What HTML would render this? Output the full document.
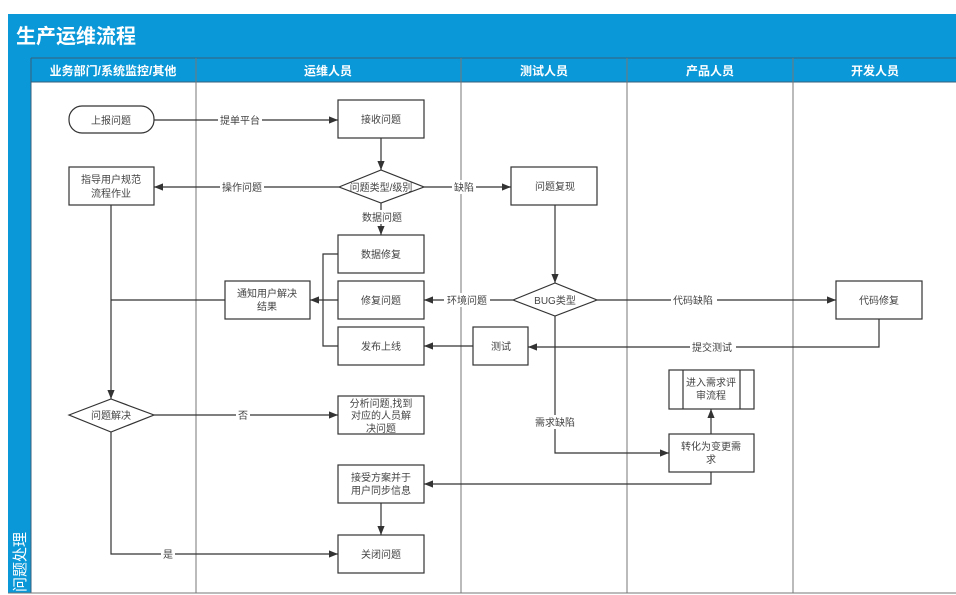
<!DOCTYPE html>
<html><head><meta charset="utf-8"><style>
html,body{margin:0;padding:0;background:#fff;}
svg{display:block;font-family:"Liberation Sans","Noto Sans CJK SC",sans-serif;}
</style></head><body>
<svg width="956" height="595" viewBox="0 0 956 595" xmlns="http://www.w3.org/2000/svg">
<defs><marker id="a" viewBox="0 0 10 10" refX="10" refY="5" markerWidth="9" markerHeight="9" markerUnits="userSpaceOnUse" orient="auto"><path d="M0,1 L10,5 L0,9 z" fill="#333"/></marker></defs>
<rect x="0" y="0" width="956" height="595" fill="#fff"/>
<rect x="8" y="14" width="948" height="44" fill="#0a98d8"/>
<text x="16" y="43" font-size="20" font-weight="bold" fill="#fff">生产运维流程</text>
<rect x="8" y="58" width="948" height="24" fill="#0a98d8"/>
<rect x="8" y="58" width="23" height="535" fill="#0a98d8"/>
<g stroke="#3a5f7a" stroke-width="1"><line x1="31" y1="58" x2="31" y2="593"/><line x1="31" y1="82" x2="956" y2="82"/><line x1="31" y1="58" x2="956" y2="58"/></g>
<g fill="#fff" font-size="12" font-weight="bold" text-anchor="middle">
<text x="113" y="75">业务部门/系统监控/其他</text><text x="328" y="75">运维人员</text><text x="544" y="75">测试人员</text><text x="710" y="75">产品人员</text><text x="875" y="75">开发人员</text></g>
<g stroke="#777" stroke-width="1"><line x1="196" y1="58" x2="196" y2="593"/><line x1="461" y1="58" x2="461" y2="593"/><line x1="627" y1="58" x2="627" y2="593"/><line x1="793" y1="58" x2="793" y2="593"/><line x1="8" y1="593" x2="956" y2="593"/></g>
<text transform="translate(25,592) rotate(-90)" font-size="15" fill="#fff">问题处理</text>
<g fill="#fff" stroke="#333" stroke-width="1.2">
<rect x="69" y="106" width="85" height="27" rx="13"/>
<rect x="338" y="100" width="86" height="38"/>
<polygon points="339,187 381,170 424,187 381,203"/>
<rect x="69" y="167" width="85" height="38"/>
<rect x="338" y="235" width="86" height="38"/>
<rect x="338" y="281" width="86" height="38"/>
<rect x="338" y="327" width="86" height="38"/>
<rect x="225" y="281" width="85" height="38"/>
<polygon points="69,415 111,399 154,415 111,432"/>
<rect x="338" y="396" width="86" height="38"/>
<rect x="338" y="465" width="86" height="38"/>
<rect x="338" y="535" width="86" height="38"/>
<rect x="511" y="167" width="86" height="38"/>
<polygon points="513,300 555,283 597,300 555,316"/>
<rect x="836" y="281" width="86" height="38"/>
<rect x="473" y="327" width="55" height="38"/>
<rect x="669" y="434" width="85" height="38"/>
<rect x="669" y="370" width="85" height="39"/>
<line x1="683" y1="370" x2="683" y2="409"/><line x1="740" y1="370" x2="740" y2="409"/>
</g>
<g fill="none" stroke="#333" stroke-width="1.2">
<path d="M154,120 H338" marker-end="url(#a)"/>
<path d="M381,138 V170" marker-end="url(#a)"/>
<path d="M339,187 H154" marker-end="url(#a)"/>
<path d="M424,187 H511" marker-end="url(#a)"/>
<path d="M381,203 V235" marker-end="url(#a)"/>
<path d="M338,254 H323 V346 H338"/>
<path d="M338,300 H310" marker-end="url(#a)"/>
<path d="M225,300 H111"/>
<path d="M111,205 V399" marker-end="url(#a)"/>
<path d="M154,415 H338" marker-end="url(#a)"/>
<path d="M111,432 V554 H338" marker-end="url(#a)"/>
<path d="M381,503 V535" marker-end="url(#a)"/>
<path d="M555,205 V283" marker-end="url(#a)"/>
<path d="M513,300 H424" marker-end="url(#a)"/>
<path d="M597,300 H836" marker-end="url(#a)"/>
<path d="M879,319 V347 H528" marker-end="url(#a)"/>
<path d="M473,346 H424" marker-end="url(#a)"/>
<path d="M555,316 V453 H669" marker-end="url(#a)"/>
<path d="M711,434 V409" marker-end="url(#a)"/>
<path d="M711,472 V484 H424" marker-end="url(#a)"/>
</g>
<g font-size="10" text-anchor="middle" fill="#444">
<rect x="218" y="113" width="44" height="14" fill="#fff"/><text x="240" y="124">提单平台</text>
<rect x="220" y="180" width="44" height="14" fill="#fff"/><text x="242" y="191">操作问题</text>
<rect x="452" y="180" width="24" height="14" fill="#fff"/><text x="464" y="191">缺陷</text>
<rect x="360" y="210" width="44" height="14" fill="#fff"/><text x="382" y="221">数据问题</text>
<rect x="444" y="293" width="46" height="14" fill="#fff"/><text x="467" y="304">环境问题</text>
<rect x="671" y="293" width="46" height="14" fill="#fff"/><text x="693" y="304">代码缺陷</text>
<rect x="690" y="340" width="46" height="14" fill="#fff"/><text x="712" y="351">提交测试</text>
<rect x="533" y="415" width="44" height="14" fill="#fff"/><text x="555" y="426">需求缺陷</text>
<rect x="236" y="408" width="14" height="14" fill="#fff"/><text x="243" y="419">否</text>
<rect x="161" y="547" width="14" height="14" fill="#fff"/><text x="168" y="558">是</text>
<text x="111" y="124">上报问题</text>
<text x="381" y="123">接收问题</text>
<text x="381" y="191">问题类型/级别</text>
<text x="111" y="183">指导用户规范</text><text x="111" y="197">流程作业</text>
<text x="381" y="258">数据修复</text>
<text x="381" y="304">修复问题</text>
<text x="381" y="350">发布上线</text>
<text x="267" y="297">通知用户解决</text><text x="267" y="310">结果</text>
<text x="111" y="419">问题解决</text>
<text x="381" y="407">分析问题,找到</text><text x="381" y="419">对应的人员解</text><text x="381" y="432">决问题</text>
<text x="381" y="481">接受方案并于</text><text x="381" y="494">用户同步信息</text>
<text x="381" y="558">关闭问题</text>
<text x="555" y="190">问题复现</text>
<text x="555" y="304">BUG类型</text>
<text x="879" y="304">代码修复</text>
<text x="501" y="350">测试</text>
<text x="711" y="450">转化为变更需</text><text x="711" y="463">求</text>
<text x="711" y="386">进入需求评</text><text x="711" y="399">审流程</text>
</g>
</svg>
</body></html>
